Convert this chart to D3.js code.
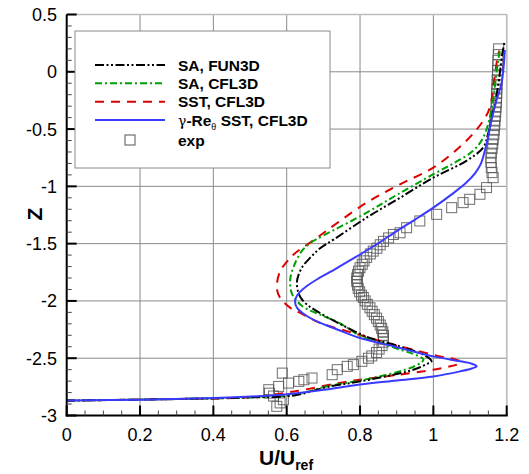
<!DOCTYPE html>
<html><head><meta charset="utf-8">
<script src="https://cdn.jsdelivr.net/npm/d3@7"></script>
<style>body{margin:0;background:#fff;} svg{display:block;font-family:"Liberation Sans",Arial,Helvetica,sans-serif;}</style>
</head><body>
<svg id="c" width="529" height="474"></svg>
<script>
// ---- data (u = U/Uref, z = Z) ----
const xTicks = [0, 0.2, 0.4, 0.6, 0.8, 1, 1.2];
const yTicks = [0.5, 0, -0.5, -1, -1.5, -2, -2.5, -3];
const xTickLabels = ["0", "0.2", "0.4", "0.6", "0.8", "1", "1.2"];
const yTickLabels = ["0.5", "0", "-0.5", "-1", "-1.5", "-2", "-2.5", "-3"];
const seriesNames = ["SA, FUN3D", "SA, CFL3D", "SST, CFL3D", "γ-Reθ SST, CFL3D", "exp"];

const saFun3d = [[0,-2.87],[0.3,-2.856],[0.5,-2.842],[0.62,-2.825],[0.71,-2.752],[0.8,-2.702],[0.909,-2.632],[0.955,-2.59],[0.982,-2.55],[0.995,-2.527],[0.973,-2.47],[0.909,-2.397],[0.827,-2.324],[0.785,-2.265],[0.745,-2.2],[0.718,-2.155],[0.68,-2.085],[0.655,-2.031],[0.64,-1.98],[0.632,-1.93],[0.628,-1.83],[0.641,-1.711],[0.665,-1.62],[0.691,-1.54],[0.73,-1.46],[0.818,-1.273],[0.909,-1.1],[1.0,-0.924],[1.09,-0.777],[1.136,-0.661],[1.149,-0.544],[1.163,-0.34],[1.176,-0.136],[1.188,0.156],[1.195,0.27]];
const saCfl3d = [[0,-2.87],[0.3,-2.856],[0.5,-2.842],[0.62,-2.82],[0.71,-2.745],[0.8,-2.695],[0.9,-2.622],[0.945,-2.575],[0.968,-2.535],[0.973,-2.51],[0.955,-2.475],[0.9,-2.415],[0.854,-2.36],[0.8,-2.305],[0.773,-2.25],[0.735,-2.18],[0.691,-2.119],[0.655,-2.07],[0.637,-2.031],[0.62,-1.97],[0.612,-1.915],[0.61,-1.8],[0.619,-1.7],[0.64,-1.57],[0.664,-1.495],[0.70,-1.43],[0.818,-1.23],[0.9,-1.075],[1.0,-0.894],[1.06,-0.79],[1.108,-0.69],[1.136,-0.574],[1.158,-0.34],[1.174,0.04],[1.181,0.185]];
const sstCfl3d = [[0,-2.87],[0.3,-2.856],[0.5,-2.84],[0.62,-2.79],[0.764,-2.704],[0.8,-2.688],[0.9,-2.646],[1.0,-2.6],[1.04,-2.575],[1.064,-2.556],[1.075,-2.535],[1.06,-2.51],[1.018,-2.484],[0.927,-2.411],[0.891,-2.383],[0.782,-2.28],[0.691,-2.192],[0.637,-2.105],[0.61,-2.061],[0.582,-1.973],[0.573,-1.886],[0.582,-1.74],[0.6,-1.66],[0.619,-1.594],[0.673,-1.47],[0.818,-1.142],[0.909,-0.982],[1.0,-0.836],[1.09,-0.602],[1.136,-0.427],[1.154,-0.311],[1.167,-0.048],[1.176,0.141],[1.18,0.185]];
const gammaReSst = [[0,-2.87],[0.2,-2.862],[0.4,-2.848],[0.53,-2.83],[0.6,-2.815],[0.7,-2.775],[0.8,-2.73],[0.9,-2.695],[1.0,-2.66],[1.073,-2.615],[1.105,-2.59],[1.118,-2.57],[1.105,-2.548],[1.073,-2.527],[1.0,-2.484],[0.891,-2.396],[0.8,-2.324],[0.745,-2.258],[0.718,-2.225],[0.69,-2.19],[0.664,-2.149],[0.645,-2.11],[0.632,-2.075],[0.625,-2.04],[0.623,-2.0],[0.627,-1.96],[0.635,-1.925],[0.655,-1.87],[0.682,-1.813],[0.72,-1.745],[0.77,-1.65],[0.81,-1.575],[0.853,-1.49],[0.9,-1.39],[0.95,-1.29],[1.0,-1.186],[1.05,-1.07],[1.09,-0.967],[1.115,-0.88],[1.13,-0.80],[1.145,-0.63],[1.158,-0.43],[1.172,-0.25],[1.186,-0.1],[1.195,0.19]];
const expData = [[0.573,-2.92],[0.582,-2.89],[0.591,-2.862],[0.564,-2.83],[0.553,-2.805],[0.551,-2.775],[0.578,-2.746],[0.605,-2.717],[0.588,-2.63],[0.633,-2.702],[0.647,-2.688],[0.669,-2.673],[0.724,-2.644],[0.738,-2.6],[0.765,-2.571],[0.782,-2.556],[0.805,-2.527],[0.823,-2.5],[0.832,-2.48],[0.845,-2.45],[0.852,-2.42],[0.86,-2.39],[0.863,-2.36],[0.864,-2.33],[0.864,-2.30],[0.862,-2.27],[0.859,-2.24],[0.855,-2.21],[0.85,-2.18],[0.845,-2.15],[0.839,-2.12],[0.833,-2.09],[0.827,-2.06],[0.82,-2.03],[0.814,-2.0],[0.809,-1.97],[0.804,-1.95],[0.799,-1.92],[0.795,-1.89],[0.793,-1.86],[0.791,-1.83],[0.791,-1.80],[0.793,-1.77],[0.796,-1.74],[0.80,-1.71],[0.806,-1.68],[0.811,-1.65],[0.818,-1.62],[0.828,-1.59],[0.836,-1.565],[0.846,-1.54],[0.855,-1.51],[0.864,-1.48],[0.878,-1.45],[0.891,-1.42],[0.909,-1.405],[0.927,-1.361],[0.963,-1.302],[1.009,-1.244],[1.05,-1.186],[1.081,-1.142],[1.099,-1.113],[1.127,-1.069],[1.145,-1.011],[1.163,-0.924],[1.16,-0.88],[1.158,-0.836],[1.157,-0.79],[1.157,-0.75],[1.158,-0.71],[1.16,-0.67],[1.162,-0.63],[1.163,-0.59],[1.165,-0.55],[1.166,-0.51],[1.167,-0.47],[1.168,-0.43],[1.169,-0.39],[1.17,-0.35],[1.171,-0.31],[1.172,-0.27],[1.172,-0.23],[1.173,-0.19],[1.173,-0.15],[1.174,-0.11],[1.174,-0.07],[1.175,-0.03],[1.175,0.01],[1.176,0.06],[1.176,0.1],[1.177,0.15],[1.178,0.2]];

// ---- drawing ----
const svg = d3.select("#c");
const x = d3.scaleLinear().domain([0, 1.2]).range([66.7, 506.7]);
const y = d3.scaleLinear().domain([-3, 0.5]).range([415.5, 14.5]);
const X0 = x(0), X1 = x(1.2), Y0 = y(-3), Y1 = y(0.5);

// grid
const grid = svg.append("g").attr("stroke", "#8a8a8a").attr("stroke-width", 1);
xTicks.slice(1).forEach(t => grid.append("line").attr("x1", x(t)).attr("x2", x(t)).attr("y1", Y0).attr("y2", Y1));
yTicks.slice(0, -1).forEach(t => grid.append("line").attr("y1", y(t)).attr("y2", y(t)).attr("x1", X0).attr("x2", X1));
// light frame top/right
svg.append("line").attr("x1", X0).attr("x2", X1).attr("y1", Y1).attr("y2", Y1).attr("stroke", "#bdbdbd").attr("stroke-width", 1.5);
svg.append("line").attr("x1", X1).attr("x2", X1).attr("y1", Y0).attr("y2", Y1).attr("stroke", "#bdbdbd").attr("stroke-width", 1.5);

const line = d3.line().x(d => x(d[0])).y(d => y(d[1])).curve(d3.curveCatmullRom.alpha(0.5));
const clip = svg.append("clipPath").attr("id", "pc").append("rect").attr("x", X0).attr("y", Y1 - 5).attr("width", X1 - X0 + 5).attr("height", Y0 - Y1 + 5);
const plot = svg.append("g").attr("clip-path", "url(#pc)");

const styles = [
  {data: saFun3d, color: "#000000", dash: "9,2.5,2,2.5,2,2.5"},
  {data: saCfl3d, color: "#00a000", dash: "7,3,2,3"},
  {data: sstCfl3d, color: "#dd0000", dash: "9,7"},
  {data: gammaReSst, color: "#3a3aff", dash: null}
];

// exp squares
plot.append("g").selectAll("rect").data(expData).join("rect")
  .attr("x", d => x(d[0]) - 5).attr("y", d => y(d[1]) - 5).attr("width", 10).attr("height", 10)
  .attr("fill", "none").attr("stroke", "#555").attr("stroke-width", 1).attr("stroke-opacity", 0.85);

// lines (draw red, green, black, then blue on top)
[2, 1, 0, 3].forEach(i => {
  const s = styles[i];
  plot.append("path").datum(s.data).attr("d", line).attr("fill", "none")
    .attr("stroke", s.color).attr("stroke-width", 2)
    .attr("stroke-dasharray", s.dash);
});

// axes
const axG = svg.append("g").attr("stroke", "#000");
axG.append("line").attr("x1", X0).attr("x2", X0).attr("y1", Y0 + 1).attr("y2", Y1).attr("stroke-width", 2);
axG.append("line").attr("x1", X0 - 1).attr("x2", X1 + 1).attr("y1", Y0).attr("y2", Y0).attr("stroke-width", 2);
const xMinor = d3.range(0, 24).map(i => i * 0.05).filter((v, i) => i % 4 !== 0);
const yMinor = d3.range(0, 35).map(i => -3 + i * 0.1).filter((v, i) => i % 5 !== 0);
xTicks.forEach(t => axG.append("line").attr("x1", x(t)).attr("x2", x(t)).attr("y1", Y0).attr("y2", Y0 - 10).attr("stroke-width", 2));
xMinor.forEach(t => axG.append("line").attr("x1", x(t)).attr("x2", x(t)).attr("y1", Y0).attr("y2", Y0 - 5).attr("stroke-width", 1).attr("stroke", "#444"));
yTicks.forEach(t => axG.append("line").attr("y1", y(t)).attr("y2", y(t)).attr("x1", X0).attr("x2", X0 + 10).attr("stroke-width", 2));
yMinor.forEach(t => axG.append("line").attr("y1", y(t)).attr("y2", y(t)).attr("x1", X0).attr("x2", X0 + 5).attr("stroke-width", 1).attr("stroke", "#444"));

// tick labels
svg.append("g").selectAll("text").data(xTicks).join("text")
  .attr("x", d => x(d)).attr("y", 441).attr("text-anchor", "middle")
  .attr("font-size", 18).text((d, i) => xTickLabels[i]);
svg.append("g").selectAll("text").data(yTicks).join("text")
  .attr("x", 57).attr("y", d => y(d) + 6.5).attr("text-anchor", "end")
  .attr("font-size", 18).text((d, i) => yTickLabels[i]);

// axis titles
const xt = svg.append("text").attr("x", 259).attr("y", 465).attr("font-size", 21).attr("font-weight", "bold");
xt.append("tspan").text("U/U");
xt.append("tspan").attr("dy", 5).attr("font-size", 14).text("ref");
svg.append("text").attr("transform", "translate(42,214) rotate(-90)").attr("text-anchor", "middle")
  .attr("font-size", 21).attr("font-weight", "bold").text("Z");

// legend
const lg = svg.append("g");
lg.append("rect").attr("x", 75).attr("y", 31).attr("width", 255).attr("height", 137)
  .attr("fill", "#fff").attr("stroke", "#8a8a8a").attr("stroke-width", 1);
const rows = [65, 83.3, 101.7, 120, 140];
styles.forEach((s, i) => {
  lg.append("line").attr("x1", 95).attr("x2", 165).attr("y1", rows[i]).attr("y2", rows[i])
    .attr("stroke", s.color).attr("stroke-width", 2).attr("stroke-dasharray", s.dash);
});
lg.append("rect").attr("x", 125).attr("y", rows[4] - 5).attr("width", 10).attr("height", 10)
  .attr("fill", "none").attr("stroke", "#555").attr("stroke-width", 1);
[0, 1, 2, 4].forEach(i => {
  lg.append("text").attr("x", 178).attr("y", rows[i] + 5.5).attr("font-size", 15.5).attr("font-weight", "bold").text(seriesNames[i]);
});
const gt = lg.append("text").attr("x", 178).attr("y", rows[3] + 5.5).attr("font-size", 15.5).attr("font-weight", "bold");
gt.append("tspan").attr("font-weight", "normal").attr("font-family", "DejaVu Serif, serif").attr("font-size", 14).text("γ");
gt.append("tspan").text("-Re");
gt.append("tspan").attr("dy", 4).attr("font-size", 9).attr("font-weight", "normal").text("θ");
gt.append("tspan").attr("dy", -4).text(" SST, CFL3D");
</script>
</body></html>
